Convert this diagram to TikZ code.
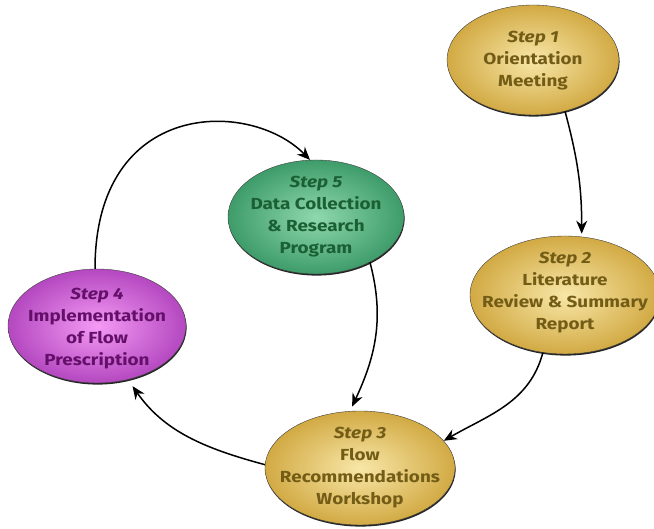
\documentclass[tikz,border=0pt]{standalone}
\usepackage{fontspec}
\setmainfont{Fira Sans}[FakeStretch=1.18]
\usetikzlibrary{arrows.meta,shapes.geometric,shadows}
\definecolor{goldIn}{HTML}{F8E7A8}
\definecolor{goldOut}{HTML}{D2AA44}
\definecolor{goldText}{HTML}{725C16}
\definecolor{greenIn}{HTML}{8FD8AE}
\definecolor{greenOut}{HTML}{3E9C6A}
\definecolor{greenText}{HTML}{1B6034}
\definecolor{plumIn}{HTML}{F49AF4}
\definecolor{plumOut}{HTML}{B448C0}
\definecolor{plumText}{HTML}{64106A}

\begin{document}
\begin{tikzpicture}[x=1pt,y=1pt,
          oval/.style={ellipse, draw=black!75, thin, inner sep=0pt, shading=radial,
            drop shadow={shadow xshift=0.6pt, shadow yshift=-1.6pt, fill=black!85, opacity=1}},
          gold/.style={oval, inner color=goldIn, outer color=goldOut},
          green/.style={oval, inner color=greenIn, outer color=greenOut},
          plum/.style={oval, inner color=plumIn, outer color=plumOut},
          steptext/.style={align=center, font=\fontsize{16}{22}\selectfont\bfseries},
          flow/.style={-{Stealth[length=13pt,width=11pt]}, line width=1.5pt, draw=black}
        ]
          \useasboundingbox (0,0) rectangle (654,529);
          % ovals
          \node[gold, minimum width=172pt, minimum height=110pt] (s1) at (533,469) {};
          \node[gold, minimum width=190pt, minimum height=118pt] (s2) at (565,234) {};
          \node[gold, minimum width=190pt, minimum height=114pt] (s3) at (360,61) {};
          \node[plum, minimum width=178pt, minimum height=114pt] (s4) at (97,203) {};
          \node[green, minimum width=176pt, minimum height=114pt] (s5) at (316,312) {};
          % texts
          \node[steptext, text=goldText] (t1) at ([yshift=-1pt]s1) {\textit{Step 1}\\Orientation\\Meeting};
          \node[steptext, text=goldText] (t2) at ([yshift=2pt]s2) {\textit{Step 2}\\Literature\\Review \& Summary\\Report};
          \node[steptext, text=goldText] (t3) at (s3) {\textit{Step 3}\\Flow\\Recommendations\\Workshop};
          \node[steptext, text=plumText] (t4) at ([yshift=-3pt]s4) {\textit{Step 4}\\Implementation\\of Flow\\Prescription};
          \node[steptext, text=greenText] (t5) at (s5) {\textit{Step 5}\\Data Collection\\\& Research\\Program};
          % arrows
          \draw[flow, shorten >=3pt] (s1.-58) to[out=-75, in=90] (s2.74);
          \draw[flow] (s2.-111) to[out=-105, in=30] (s3.18);
          \draw[flow, shorten >=5pt] (s5.-40) to[out=-75, in=65] (s3.100);
          \draw[flow, shorten >=8pt] (s3.178) to[out=165, in=-55] (s4.-60);
          \draw[flow] (s4.92) .. controls ([yshift=170pt]s4.92) and ([xshift=-60pt,yshift=61pt]s5.96) .. (s5.96);
        \end{tikzpicture}
\end{document}
